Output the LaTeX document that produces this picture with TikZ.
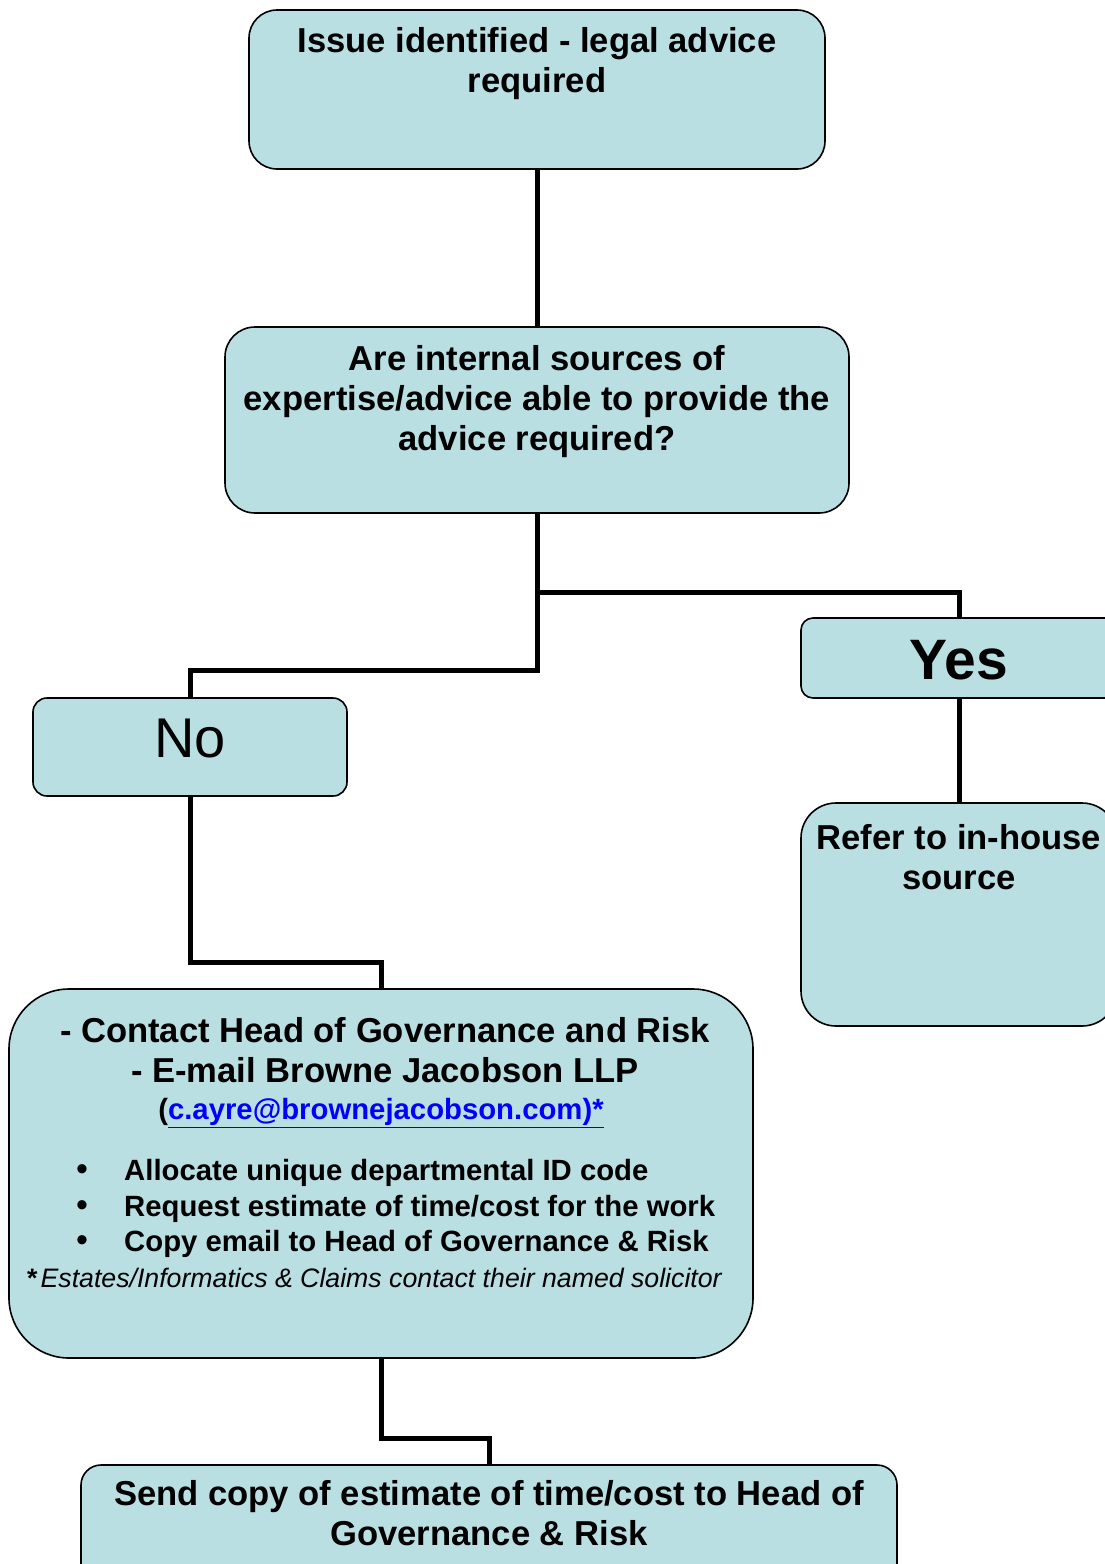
\documentclass[tikz,border=0pt]{standalone}
\usepackage{fontspec}
\setmainfont{Liberation Sans}
\usetikzlibrary{positioning}

\definecolor{boxfill}{RGB}{185,223,227}
\definecolor{linkblue}{RGB}{0,0,255}
\newcommand{\mainsz}{\fontsize{34.6}{40}\selectfont\bfseries}
\newcommand{\listsz}{\fontsize{29.3}{35.5}\selectfont\bfseries}

\tikzset{
  flowbox/.style={draw, line width=1.6pt, fill=boxfill, rounded corners=#1},
  flowbox/.default=20pt,
  flowtext/.style={align=center, font=\mainsz, inner sep=0pt},
  link/.style={line width=5pt},
}

\begin{document}
\begin{tikzpicture}[x=1pt,y=-1pt]
  \useasboundingbox (0,0) rectangle (1105,1564);
  \clip (0,0) rectangle (1105,1564);
  \fill[white] (0,0) rectangle (1105,1564);

  % boxes
  \node[flowbox=28pt, minimum width=576pt, minimum height=159pt] (issue) at (537,89.5) {};
  \node[flowbox=30pt, minimum width=624pt, minimum height=186pt] (quest) at (537,420) {};
  \node[flowbox=12pt, minimum width=316pt, minimum height=80pt] (yes) at (959,658) {};
  \node[flowbox=14pt, minimum width=314pt, minimum height=98pt] (no) at (190,747) {};
  \node[flowbox=35pt, minimum width=316pt, minimum height=223pt] (refer) at (959,914.5) {};
  \node[flowbox=60pt, minimum width=744pt, minimum height=369pt] (contact) at (381,1173.5) {};
  \node[flowbox=20pt, minimum width=816pt, minimum height=130pt] (send) at (489,1530) {};

  % connectors
  \draw[link] (issue) -- (quest);
  \draw[link] (quest.south) -- (537,592) -| (yes.north);
  \draw[link] (quest.south) -- (537,670) -| (no.north);
  \draw[link] (yes) -- (refer);
  \draw[link] (no.south) -- (190,962) -| (contact.north);
  \draw[link] (contact.south) -- (381,1438) -| (send.north);

  % texts
  \node[flowtext] (issuetxt) at (537,64) {Issue identified - legal advice\\required};
  \node[flowtext] (questtxt) at (537,402) {Are internal sources of\\expertise/advice able to provide the\\advice required?};
  \node[flowtext, font=\fontsize{57}{60}\selectfont\bfseries] (yestxt) at (959,660) {Yes};
  \node[flowtext, font=\fontsize{56}{60}\selectfont] (notxt) at (190,738) {No};
  \node[flowtext] (refertxt) at (959,857) {Refer to in-house\\source};
  \node[flowtext] (contacttxt) at (385,1050) {- Contact Head of Governance and Risk\\- E-mail Browne Jacobson LLP};
  \node[flowtext, font=\listsz] (mailtxt) at (381,1113)
    {(\textcolor{linkblue}{\underline{c.ayre@brownejacobson.com)*}}};
  \foreach \t [count=\i] in {Allocate unique departmental ID code,
    Request estimate of time/cost for the work, Copy email to Head of Governance \& Risk} {
    \node[font=\fontsize{34}{36}\selectfont, inner sep=0pt] (dot\i) at (82,{1173+35.5*(\i-1)}) {\textbullet};
    \node[font=\listsz, inner sep=0pt, anchor=west] (item\i) at (124,{1173+35.5*(\i-1)}) {\t};
  }
  \node[inner sep=0pt, anchor=west, font=\fontsize{26.7}{30}\selectfont] (notetxt) at (27,1278)
    {\textbf{*}\kern3pt\itshape Estates/Informatics \& Claims contact their named solicitor};
  \node[flowtext] (sendtxt) at (489,1513) {Send copy of estimate of time/cost to Head of\\Governance \& Risk};
\end{tikzpicture}
\end{document}
